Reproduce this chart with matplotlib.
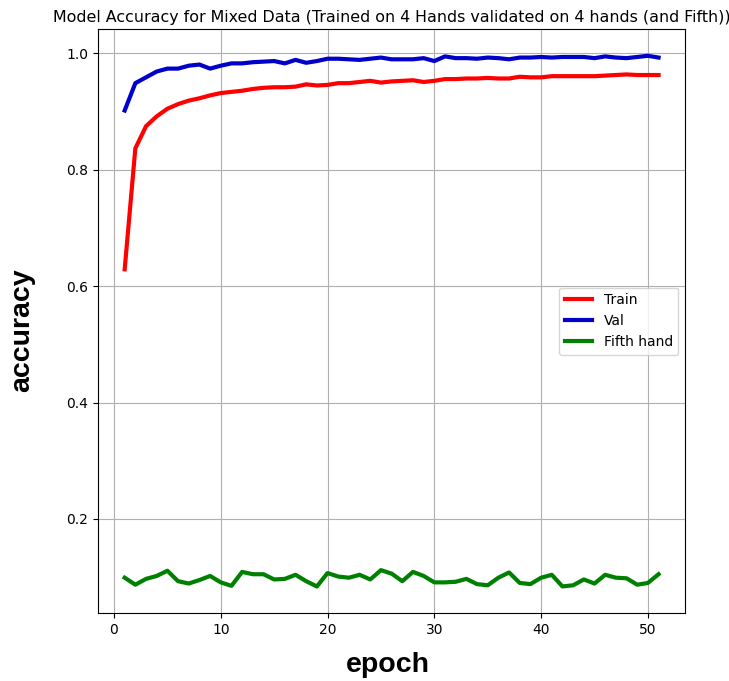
import numpy as np
import matplotlib
matplotlib.use('Agg')
import matplotlib.pyplot as plt


epochs = list(range(1, 52))

train_acc = [0.629, 0.837, 0.875, 0.892, 0.905, 0.913, 0.919, 0.923, 0.928, 0.932,
             0.934, 0.936, 0.939, 0.941, 0.942, 0.942, 0.943, 0.947, 0.945, 0.946,
             0.949, 0.949, 0.951, 0.953, 0.950, 0.952, 0.953, 0.954, 0.951, 0.953,
             0.956, 0.956, 0.957, 0.957, 0.958, 0.957, 0.957, 0.960, 0.959, 0.959,
             0.961, 0.961, 0.961, 0.961, 0.961, 0.962, 0.963, 0.964, 0.963, 0.963,
             0.963]

val_acc = [0.902, 0.949, 0.959, 0.969, 0.974, 0.974, 0.979, 0.981, 0.974, 0.979,
           0.983, 0.983, 0.985, 0.986, 0.987, 0.983, 0.989, 0.984, 0.987, 0.991,
           0.991, 0.990, 0.989, 0.991, 0.993, 0.990, 0.990, 0.990, 0.992, 0.987,
           0.995, 0.992, 0.992, 0.991, 0.993, 0.992, 0.990, 0.993, 0.993, 0.994,
           0.993, 0.994, 0.994, 0.994, 0.992, 0.995, 0.993, 0.992, 0.994, 0.996,
           0.993]

fifth_acc = [0.099, 0.087, 0.097, 0.102, 0.111, 0.093, 0.089, 0.095, 0.102, 0.091,
             0.085, 0.109, 0.105, 0.105, 0.096, 0.097, 0.104, 0.093, 0.084, 0.107,
             0.101, 0.099, 0.104, 0.096, 0.112, 0.106, 0.093, 0.109, 0.102, 0.091,
             0.091, 0.092, 0.097, 0.088, 0.086, 0.099, 0.108, 0.090, 0.088, 0.099,
             0.104, 0.084, 0.086, 0.096, 0.089, 0.104, 0.099, 0.098, 0.087, 0.090,
             0.105]

fig = plt.figure(figsize=(7.29, 6.81), dpi=100)
ax = fig.add_axes([0.1344, 0.0999, 0.8056, 0.8571])

ax.plot(epochs, train_acc, color='red', lw=3, label='Train')
ax.plot(epochs, val_acc, color='#0000c8', lw=3, label='Val')
ax.plot(epochs, fifth_acc, color='green', lw=3, label='Fifth hand')

ax.set_title('Model Accuracy for Mixed Data (Trained on 4 Hands validated on 4 hands (and Fifth))',
             fontsize=11.4, pad=5)
ax.grid(True)
ax.legend(loc='center right')

# big axis labels (bold, arial-like)
fig.text(388 / 729, 1 - 665 / 681, 'epoch', ha='center', va='center',
         fontsize=20.5, fontweight='bold', family='Liberation Sans')
fig.text(22 / 729, 1 - 330 / 681, 'accuracy', ha='center', va='center', rotation=90,
         fontsize=20.5, fontweight='bold', family='Liberation Sans')

fig.savefig('out.png', dpi=100)
